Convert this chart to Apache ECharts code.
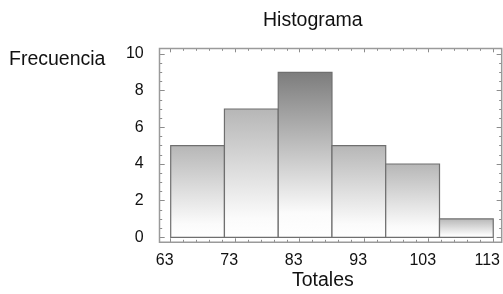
<!DOCTYPE html>
<html>
<head>
<meta charset="utf-8">
<script src="https://cdn.jsdelivr.net/npm/echarts@6/dist/echarts.min.js"></script>
<style>
  html, body { margin: 0; padding: 0; background: #fff; }
  #container { width: 503px; height: 294px; }
</style>
</head>
<body>
<div id="container"></div>
<script>
// bin edges and counts
var binEdges = [63, 71.33, 79.67, 88, 96.33, 104.67, 113];
var counts = [5, 7, 9, 5, 4, 1];
var xTicks = [63, 73, 83, 93, 103, 113];
var yTicks = [0, 2, 4, 6, 8, 10];

var font = 'Liberation Sans, Arial, sans-serif';
var maxCount = Math.max.apply(null, counts);

var bins = counts.map(function (c, i) {
  return [binEdges[i], binEdges[i + 1], c];
});

var tickCol = '#8c8c8c';

function xAxisBase(pos, offset, showLabel) {
  return {
    type: 'value',
    position: pos,
    offset: offset,
    min: xTicks[0],
    max: xTicks[xTicks.length - 1],
    interval: 10,
    axisLine: { show: false, onZero: false },
    splitLine: { show: false },
    axisTick: { show: true, inside: true, length: 4, lineStyle: { color: tickCol } },
    minorTick: { show: true, splitNumber: 5, length: 2.5, lineStyle: { color: tickCol } },
    axisLabel: {
      show: showLabel, margin: 10, color: '#111',
      fontSize: 16, fontFamily: font, padding: [0, 12, 0, 0]
    }
  };
}

function yAxisBase(pos, offset, showLabel) {
  return {
    type: 'value',
    position: pos,
    offset: offset,
    min: yTicks[0],
    max: yTicks[yTicks.length - 1],
    interval: 2,
    axisLine: { show: false, onZero: false },
    splitLine: { show: false },
    axisTick: { show: true, inside: true, length: 5, lineStyle: { color: tickCol } },
    minorTick: { show: true, splitNumber: 4, length: 2.5, lineStyle: { color: tickCol } },
    axisLabel: {
      show: showLabel, margin: 16, color: '#111',
      fontSize: 16, fontFamily: font, padding: [5, 0, 0, 0]
    }
  };
}

var option = {
  animation: false,
  backgroundColor: '#fff',
  title: {
    text: 'Histograma',
    left: 258,
    top: 6,
    textStyle: { fontSize: 19.5, fontWeight: 'normal', color: '#111', fontFamily: font }
  },
  grid: { left: 170.7, right: 9.7, top: 54, bottom: 56.7, containLabel: false },
  xAxis: [xAxisBase('bottom', 5, true), xAxisBase('top', 5.7, false)],
  yAxis: [yAxisBase('left', 11, true), yAxisBase('right', 8.4, false)],
  graphic: [
    {
      type: 'rect',
      shape: { x: 159.5, y: 48.5, width: 342.2, height: 193.7 },
      style: { fill: 'none', stroke: '#9a9a9a', lineWidth: 1.5 },
      z: 10
    },
    {
      type: 'text',
      left: 9,
      top: 50,
      style: { text: 'Frecuencia', fontSize: 19.5, fill: '#111', fontFamily: font }
    },
    {
      type: 'text',
      left: 292,
      top: 271,
      style: { text: 'Totales', fontSize: 19.5, fill: '#111', fontFamily: font }
    }
  ],
  series: [{
    type: 'custom',
    xAxisIndex: 0,
    yAxisIndex: 0,
    data: bins,
    renderItem: function (params, api) {
      var p0 = api.coord([api.value(0), api.value(2)]);
      var p1 = api.coord([api.value(1), 0]);
      var top = api.value(2) === maxCount ? '#7c7c7c' : '#b6b6b6';
      return {
        type: 'rect',
        shape: { x: p0[0], y: p0[1], width: p1[0] - p0[0], height: p1[1] - p0[1] },
        style: {
          fill: new echarts.graphic.LinearGradient(0, 0, 0, 1, [
            { offset: 0, color: top },
            { offset: 0.85, color: '#fbfbfb' },
            { offset: 1, color: '#ffffff' }
          ]),
          stroke: '#6f6f6f',
          lineWidth: 1.2
        }
      };
    }
  }]
};

var myChart = echarts.init(document.getElementById('container'), null, { renderer: 'canvas' });
myChart.setOption(option);
</script>
</body>
</html>
